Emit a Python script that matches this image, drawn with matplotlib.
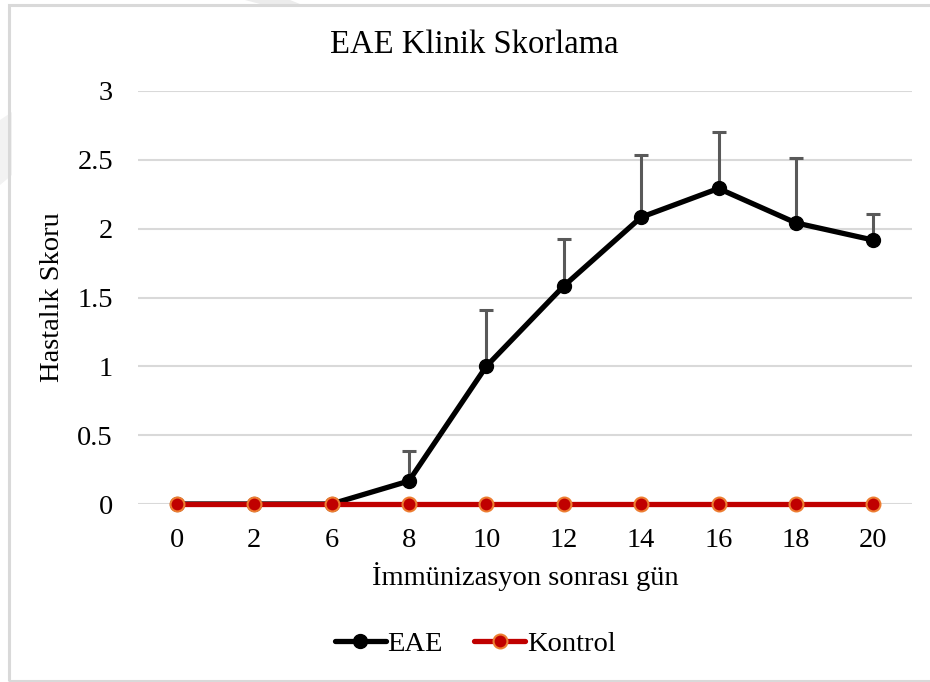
import matplotlib
matplotlib.use("Agg")
import matplotlib.pyplot as plt
from matplotlib.patches import Rectangle, Polygon

# Data
days = ["0", "2", "6", "8", "10", "12", "14", "16", "18", "20"]
eae_mean = [0, 0, 0, 0.167, 1.0, 1.583, 2.083, 2.292, 2.042, 1.917]
eae_err = [0, 0, 0, 0.22, 0.41, 0.34, 0.45, 0.41, 0.47, 0.19]
kontrol_mean = [0, 0, 0, 0, 0, 0, 0, 0, 0, 0]
y_ticks = [0, 0.5, 1, 1.5, 2, 2.5, 3]
y_tick_labels = ["0", "0.5", "1", "1.5", "2", "2.5", "3"]

plt.rcParams["font.family"] = ["Liberation Serif", "DejaVu Serif"]

fig = plt.figure(figsize=(9.3, 6.82), dpi=100)
W, H = 930, 682
FS = 20.5

# faint decorative diagonal in the top-left corner
fig.patches.append(Polygon([(0, 1 - 120 / H), (0, 1 - 185 / H), (12 / W, 1 - 175 / H), (12 / W, 1 - 112 / H)],
                           closed=True, transform=fig.transFigure, facecolor="#f2f2f2",
                           edgecolor="none", zorder=0))
fig.patches.append(Polygon([(245 / W, 1.0), (290 / W, 1.0), (300 / W, 1 - 4 / H), (260 / W, 1 - 4 / H)],
                           closed=True, transform=fig.transFigure, facecolor="#ececec",
                           edgecolor="none", zorder=0))

# chart border
fig.patches.append(Rectangle((8.5 / W, 1.5 / H), 1.0, 1 - 6 / H, transform=fig.transFigure,
                             facecolor="none", edgecolor="#d9d9d9", linewidth=2.2, zorder=1))

ax = fig.add_axes([138 / W, 1 - 504 / H, (912 - 138) / W, (504 - 91) / H])
x = list(range(len(days)))

ax.set_xlim(-0.5, len(days) - 0.5)
ax.set_ylim(0, 3)
ax.set_yticks(y_ticks)
ax.set_yticklabels(y_tick_labels)
ax.set_xticks(x)
ax.set_xticklabels(days)
ax.grid(axis="y", color="#d9d9d9", linewidth=1.5)
ax.set_axisbelow(True)
for s in ax.spines.values():
    s.set_visible(False)
ax.tick_params(axis="both", length=0, labelsize=FS, colors="black")
ax.tick_params(axis="y", pad=18)
ax.tick_params(axis="x", pad=17)
ax.patch.set_alpha(0)

# upper error bars for EAE
lower = [0] * len(eae_err)
ax.errorbar(x, eae_mean, yerr=[lower, eae_err], fmt="none", ecolor="#595959",
            elinewidth=2.2, capsize=5, capthick=2.2, zorder=2)

ax.plot(x, eae_mean, color="black", linewidth=3.8, marker="o", markersize=10,
        markerfacecolor="black", markeredgecolor="black", label="EAE", zorder=3,
        clip_on=False, solid_capstyle="round")
ax.plot(x, kontrol_mean, color="#c00000", linewidth=3.8, marker="o", markersize=10,
        markerfacecolor="#c00000", markeredgecolor="#ed7d31", markeredgewidth=1.5,
        label="Kontrol", zorder=4, clip_on=False, solid_capstyle="round")

fig.text(474 / W, 1 - 45 / H, "EAE Klinik Skorlama", fontsize=23.5, ha="center", va="center")
ax.set_ylabel("Hastalık Skoru", fontsize=FS, labelpad=9)
ax.set_xlabel("İmmünizasyon sonrası gün", fontsize=FS, labelpad=7)

leg = fig.legend(loc="center", bbox_to_anchor=(475 / W, 1 - 644 / H), ncol=2, frameon=False,
                 fontsize=FS, handlelength=1.8, handletextpad=0.05, columnspacing=1.1)

fig.savefig("out.png", dpi=100, facecolor="white")
